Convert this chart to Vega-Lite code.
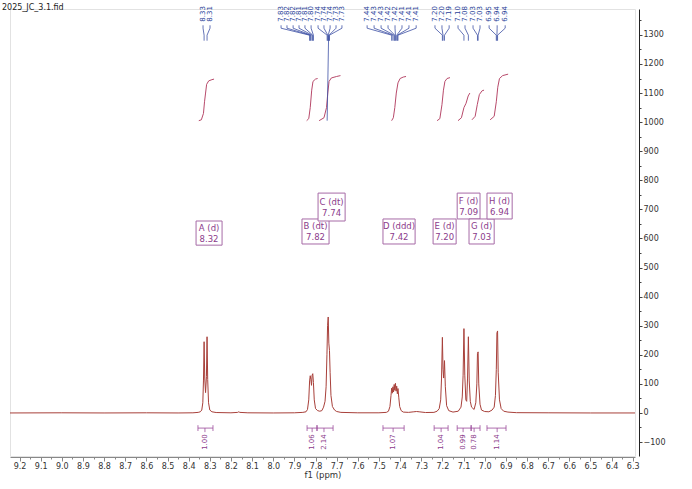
{
  "$schema": "https://vega.github.io/schema/vega-lite/v6.json",
  "width": 625,
  "height": 447,
  "autosize": {"type": "none"},
  "padding": {"left": 10, "top": 9, "right": 57, "bottom": 33},
  "background": "white",
  "title": {"text": "2025_JC_3.1.fid", "anchor": "start", "frame": "group", "dx": -8, "offset": -10, "baseline": "middle", "fontSize": 8, "fontWeight": "normal", "font": "DejaVu Sans", "color": "#222"},
  "config": {"font": "DejaVu Sans", "view": {"stroke": "#e2e2e2"}},
  "resolve": {"axis": {"x": "independent", "y": "independent"}},
  "datasets": {
    "spec": [
      {"p": 9.245, "i": 0}, {"p": 9.0, "i": 0.5}, {"p": 8.8, "i": 0}, {"p": 8.6, "i": 0.5}, {"p": 8.45, "i": 0}, {"p": 8.38, "i": 0.5}, {"p": 8.355, "i": 2}, {"p": 8.345, "i": 4}, {"p": 8.338, "i": 10}, {"p": 8.333, "i": 35}, {"p": 8.33, "i": 110}, {"p": 8.327, "i": 245}, {"p": 8.324, "i": 120}, {"p": 8.32, "i": 70}, {"p": 8.316, "i": 125}, {"p": 8.313, "i": 262}, {"p": 8.31, "i": 115}, {"p": 8.306, "i": 35}, {"p": 8.3, "i": 10}, {"p": 8.29, "i": 4}, {"p": 8.27, "i": 1.5}, {"p": 8.2, "i": 0.5}, {"p": 8.168, "i": 2}, {"p": 8.163, "i": 4}, {"p": 8.158, "i": 2}, {"p": 8.12, "i": 0.5}, {"p": 8.0, "i": 0}, {"p": 7.9, "i": 0.5}, {"p": 7.86, "i": 2}, {"p": 7.845, "i": 4}, {"p": 7.838, "i": 12}, {"p": 7.832, "i": 45}, {"p": 7.828, "i": 110}, {"p": 7.825, "i": 128}, {"p": 7.822, "i": 115}, {"p": 7.819, "i": 95}, {"p": 7.816, "i": 130}, {"p": 7.813, "i": 135}, {"p": 7.81, "i": 105}, {"p": 7.806, "i": 45}, {"p": 7.8, "i": 15}, {"p": 7.79, "i": 8}, {"p": 7.78, "i": 6}, {"p": 7.77, "i": 8}, {"p": 7.762, "i": 20}, {"p": 7.755, "i": 40}, {"p": 7.75, "i": 90}, {"p": 7.746, "i": 200}, {"p": 7.743, "i": 300}, {"p": 7.74, "i": 330}, {"p": 7.737, "i": 240}, {"p": 7.734, "i": 215}, {"p": 7.731, "i": 140}, {"p": 7.727, "i": 60}, {"p": 7.72, "i": 22}, {"p": 7.71, "i": 10}, {"p": 7.7, "i": 5}, {"p": 7.68, "i": 2}, {"p": 7.6, "i": 0.5}, {"p": 7.5, "i": 0.5}, {"p": 7.465, "i": 2}, {"p": 7.455, "i": 6}, {"p": 7.448, "i": 22}, {"p": 7.443, "i": 60}, {"p": 7.44, "i": 85}, {"p": 7.437, "i": 68}, {"p": 7.434, "i": 90}, {"p": 7.431, "i": 72}, {"p": 7.428, "i": 98}, {"p": 7.425, "i": 78}, {"p": 7.422, "i": 102}, {"p": 7.419, "i": 75}, {"p": 7.416, "i": 92}, {"p": 7.413, "i": 66}, {"p": 7.41, "i": 84}, {"p": 7.406, "i": 52}, {"p": 7.402, "i": 22}, {"p": 7.395, "i": 8}, {"p": 7.385, "i": 3}, {"p": 7.36, "i": 2}, {"p": 7.335, "i": 4}, {"p": 7.322, "i": 5}, {"p": 7.31, "i": 4}, {"p": 7.28, "i": 1.5}, {"p": 7.24, "i": 2}, {"p": 7.225, "i": 6}, {"p": 7.215, "i": 15}, {"p": 7.208, "i": 45}, {"p": 7.204, "i": 120}, {"p": 7.2, "i": 260}, {"p": 7.197, "i": 150}, {"p": 7.194, "i": 120}, {"p": 7.19, "i": 180}, {"p": 7.186, "i": 90}, {"p": 7.18, "i": 25}, {"p": 7.17, "i": 8}, {"p": 7.15, "i": 3}, {"p": 7.125, "i": 6}, {"p": 7.112, "i": 20}, {"p": 7.106, "i": 55}, {"p": 7.102, "i": 130}, {"p": 7.098, "i": 290}, {"p": 7.094, "i": 130}, {"p": 7.089, "i": 45}, {"p": 7.085, "i": 40}, {"p": 7.081, "i": 120}, {"p": 7.077, "i": 262}, {"p": 7.073, "i": 110}, {"p": 7.068, "i": 40}, {"p": 7.062, "i": 20}, {"p": 7.05, "i": 12}, {"p": 7.042, "i": 35}, {"p": 7.037, "i": 100}, {"p": 7.034, "i": 205}, {"p": 7.031, "i": 210}, {"p": 7.028, "i": 100}, {"p": 7.022, "i": 30}, {"p": 7.015, "i": 10}, {"p": 7.0, "i": 5}, {"p": 6.98, "i": 4}, {"p": 6.965, "i": 10}, {"p": 6.955, "i": 20}, {"p": 6.949, "i": 60}, {"p": 6.945, "i": 150}, {"p": 6.942, "i": 275}, {"p": 6.939, "i": 282}, {"p": 6.936, "i": 140}, {"p": 6.93, "i": 45}, {"p": 6.922, "i": 15}, {"p": 6.91, "i": 6}, {"p": 6.89, "i": 3}, {"p": 6.85, "i": 1}, {"p": 6.7, "i": 0.5}, {"p": 6.5, "i": 0}, {"p": 6.289, "i": 0}
    ],
    "integ": [
      {"g": "A", "p": 8.352, "v": 1005}, {"g": "A", "p": 8.34, "v": 1008}, {"g": "A", "p": 8.33, "v": 1030}, {"g": "A", "p": 8.325, "v": 1070}, {"g": "A", "p": 8.32, "v": 1100}, {"g": "A", "p": 8.315, "v": 1130}, {"g": "A", "p": 8.305, "v": 1142}, {"g": "A", "p": 8.29, "v": 1146}, {"g": "A", "p": 8.28, "v": 1148},
      {"g": "B", "p": 7.842, "v": 1005}, {"g": "B", "p": 7.832, "v": 1012}, {"g": "B", "p": 7.825, "v": 1050}, {"g": "B", "p": 7.818, "v": 1110}, {"g": "B", "p": 7.812, "v": 1140}, {"g": "B", "p": 7.8, "v": 1148}, {"g": "B", "p": 7.79, "v": 1150},
      {"g": "C", "p": 7.783, "v": 1005}, {"g": "C", "p": 7.76, "v": 1015}, {"g": "C", "p": 7.748, "v": 1050}, {"g": "C", "p": 7.742, "v": 1100}, {"g": "C", "p": 7.736, "v": 1140}, {"g": "C", "p": 7.725, "v": 1152}, {"g": "C", "p": 7.7, "v": 1157}, {"g": "C", "p": 7.682, "v": 1160},
      {"g": "D", "p": 7.44, "v": 1005}, {"g": "D", "p": 7.432, "v": 1015}, {"g": "D", "p": 7.425, "v": 1050}, {"g": "D", "p": 7.418, "v": 1100}, {"g": "D", "p": 7.41, "v": 1135}, {"g": "D", "p": 7.4, "v": 1150}, {"g": "D", "p": 7.385, "v": 1155}, {"g": "D", "p": 7.372, "v": 1157},
      {"g": "E", "p": 7.225, "v": 1005}, {"g": "E", "p": 7.212, "v": 1012}, {"g": "E", "p": 7.202, "v": 1060}, {"g": "E", "p": 7.195, "v": 1110}, {"g": "E", "p": 7.188, "v": 1140}, {"g": "E", "p": 7.178, "v": 1150}, {"g": "E", "p": 7.164, "v": 1153},
      {"g": "F", "p": 7.126, "v": 1005}, {"g": "F", "p": 7.11, "v": 1015}, {"g": "F", "p": 7.098, "v": 1050}, {"g": "F", "p": 7.088, "v": 1065}, {"g": "F", "p": 7.078, "v": 1090}, {"g": "F", "p": 7.07, "v": 1100},
      {"g": "G", "p": 7.06, "v": 1008}, {"g": "G", "p": 7.045, "v": 1020}, {"g": "G", "p": 7.035, "v": 1060}, {"g": "G", "p": 7.025, "v": 1095}, {"g": "G", "p": 7.012, "v": 1108}, {"g": "G", "p": 7.003, "v": 1110},
      {"g": "H", "p": 6.974, "v": 1008}, {"g": "H", "p": 6.955, "v": 1020}, {"g": "H", "p": 6.945, "v": 1070}, {"g": "H", "p": 6.938, "v": 1120}, {"g": "H", "p": 6.93, "v": 1150}, {"g": "H", "p": 6.915, "v": 1160}, {"g": "H", "p": 6.889, "v": 1165}
    ],
    "peaks": [
      {"lab": "8.33", "lx": 8.332, "px": 8.327}, {"lab": "8.31", "lx": 8.299, "px": 8.313},
      {"lab": "7.83", "lx": 7.963, "px": 7.828}, {"lab": "7.82", "lx": 7.935, "px": 7.825}, {"lab": "7.82", "lx": 7.906, "px": 7.822}, {"lab": "7.81", "lx": 7.878, "px": 7.816}, {"lab": "7.81", "lx": 7.85, "px": 7.813}, {"lab": "7.80", "lx": 7.821, "px": 7.81},
      {"lab": "7.74", "lx": 7.788, "px": 7.745}, {"lab": "7.74", "lx": 7.76, "px": 7.742}, {"lab": "7.74", "lx": 7.731, "px": 7.74}, {"lab": "7.73", "lx": 7.703, "px": 7.736}, {"lab": "7.73", "lx": 7.675, "px": 7.734},
      {"lab": "7.44", "lx": 7.556, "px": 7.44}, {"lab": "7.43", "lx": 7.523, "px": 7.434}, {"lab": "7.43", "lx": 7.49, "px": 7.428}, {"lab": "7.42", "lx": 7.457, "px": 7.425}, {"lab": "7.42", "lx": 7.424, "px": 7.422}, {"lab": "7.41", "lx": 7.391, "px": 7.416}, {"lab": "7.41", "lx": 7.358, "px": 7.413}, {"lab": "7.41", "lx": 7.324, "px": 7.41},
      {"lab": "7.20", "lx": 7.235, "px": 7.2}, {"lab": "7.20", "lx": 7.202, "px": 7.197}, {"lab": "7.19", "lx": 7.168, "px": 7.19},
      {"lab": "7.10", "lx": 7.126, "px": 7.098}, {"lab": "7.08", "lx": 7.093, "px": 7.077}, {"lab": "7.03", "lx": 7.055, "px": 7.034}, {"lab": "7.03", "lx": 7.022, "px": 7.031},
      {"lab": "6.95", "lx": 6.979, "px": 6.945}, {"lab": "6.94", "lx": 6.941, "px": 6.942}, {"lab": "6.94", "lx": 6.903, "px": 6.939}
    ],
    "cline": [{"x1": 7.738, "x2": 7.745, "y1": 1299, "y2": 1005}],
    "mult": [
      {"t": "A (d)\n8.32", "x1": 8.365, "x2": 8.242, "y1": 577, "y2": 660, "xc": 8.3035, "yc": 618.5},
      {"t": "B (dt)\n7.82", "x1": 7.864, "x2": 7.736, "y1": 581, "y2": 667, "xc": 7.8, "yc": 624},
      {"t": "C (dt)\n7.74", "x1": 7.788, "x2": 7.66, "y1": 660, "y2": 756, "xc": 7.724, "yc": 708},
      {"t": "D (ddd)\n7.42", "x1": 7.481, "x2": 7.329, "y1": 581, "y2": 667, "xc": 7.405, "yc": 624},
      {"t": "E (d)\n7.20", "x1": 7.244, "x2": 7.135, "y1": 581, "y2": 667, "xc": 7.1895, "yc": 624},
      {"t": "F (d)\n7.09", "x1": 7.13, "x2": 7.022, "y1": 667, "y2": 756, "xc": 7.076, "yc": 711.5},
      {"t": "G (d)\n7.03", "x1": 7.074, "x2": 6.955, "y1": 581, "y2": 667, "xc": 7.0145, "yc": 624},
      {"t": "H (d)\n6.94", "x1": 6.989, "x2": 6.87, "y1": 667, "y2": 756, "xc": 6.9295, "yc": 711.5}
    ],
    "ibr": [
      {"v": "1.00", "p1": 8.356, "p2": 8.285, "pm": 8.323},
      {"v": "1.06", "p1": 7.84, "p2": 7.793, "pm": 7.816},
      {"v": "2.14", "p1": 7.793, "p2": 7.717, "pm": 7.76},
      {"v": "1.07", "p1": 7.481, "p2": 7.381, "pm": 7.433},
      {"v": "1.04", "p1": 7.239, "p2": 7.173, "pm": 7.206},
      {"v": "0.99", "p1": 7.13, "p2": 7.064, "pm": 7.102},
      {"v": "0.78", "p1": 7.064, "p2": 7.022, "pm": 7.05},
      {"v": "1.14", "p1": 6.989, "p2": 6.899, "pm": 6.941}
    ]
  },
  "layer": [
    {
      "data": {"name": "spec"},
      "mark": {"type": "line", "color": "#a8403a", "strokeWidth": 1},
      "encoding": {
        "x": {"field": "p", "type": "quantitative", "scale": {"domain": [9.245, 6.289], "nice": false, "zero": false},
          "axis": {"title": "f1 (ppm)", "titleFontSize": 8.5, "titleFontWeight": "normal", "titleColor": "#333", "titlePadding": 0, "offset": 1,
            "values": [9.2,9.15,9.1,9.05,9.0,8.95,8.9,8.85,8.8,8.75,8.7,8.65,8.6,8.55,8.5,8.45,8.4,8.35,8.3,8.25,8.2,8.15,8.1,8.05,8.0,7.95,7.9,7.85,7.8,7.75,7.7,7.65,7.6,7.55,7.5,7.45,7.4,7.35,7.3,7.25,7.2,7.15,7.1,7.05,7.0,6.95,6.9,6.85,6.8,6.75,6.7,6.65,6.6,6.55,6.5,6.45,6.4,6.35,6.3],
            "labelExpr": "abs(datum.value*10 - round(datum.value*10)) < 0.01 ? format(datum.value, '.1f') : ''",
            "tickSize": {"condition": {"test": "abs(datum.value*10 - round(datum.value*10)) < 0.01", "value": 4}, "value": 2},
            "labelOverlap": false, "labelFlush": false, "labelFontSize": 8, "labelColor": "#333", "labelPadding": 1, "grid": false, "domainColor": "#888", "tickColor": "#888"}},
        "y": {"field": "i", "type": "quantitative", "scale": {"domain": [-148, 1389], "nice": false, "zero": false},
          "axis": {"title": null, "orient": "right", "offset": 4,
            "values": [-100,-50,0,50,100,150,200,250,300,350,400,450,500,550,600,650,700,750,800,850,900,950,1000,1050,1100,1150,1200,1250,1300,1350],
            "labelExpr": "datum.value % 100 === 0 ? format(datum.value, 'd') : ''",
            "tickSize": {"condition": {"test": "datum.value % 100 === 0", "value": 3}, "value": 2},
            "labelOverlap": false, "labelFontSize": 8, "labelColor": "#333", "labelPadding": 1, "grid": false, "domainColor": "#222", "tickColor": "#444"}}
      }
    },
    {
      "data": {"name": "integ"},
      "mark": {"type": "line", "color": "#b84a6b", "strokeWidth": 1},
      "encoding": {
        "x": {"field": "p", "type": "quantitative", "axis": null},
        "y": {"field": "v", "type": "quantitative", "axis": null},
        "detail": {"field": "g"}
      }
    },
    {
      "data": {"name": "peaks"},
      "mark": {"type": "rule", "color": "#3d50a5", "strokeWidth": 0.8},
      "encoding": {
        "x": {"field": "lx", "type": "quantitative", "axis": null},
        "y": {"datum": 1333, "type": "quantitative", "axis": null},
        "y2": {"datum": 1323}
      }
    },
    {
      "data": {"name": "peaks"},
      "mark": {"type": "rule", "color": "#3d50a5", "strokeWidth": 0.8},
      "encoding": {
        "x": {"field": "lx", "type": "quantitative", "axis": null},
        "x2": {"field": "px"},
        "y": {"datum": 1323, "type": "quantitative", "axis": null},
        "y2": {"datum": 1299}
      }
    },
    {
      "data": {"name": "peaks"},
      "mark": {"type": "rule", "color": "#3d50a5", "strokeWidth": 0.8},
      "encoding": {
        "x": {"field": "px", "type": "quantitative", "axis": null},
        "y": {"datum": 1299, "type": "quantitative", "axis": null},
        "y2": {"datum": 1280}
      }
    },
    {
      "data": {"name": "cline"},
      "mark": {"type": "rule", "color": "#3d50a5", "strokeWidth": 0.8},
      "encoding": {
        "x": {"field": "x1", "type": "quantitative", "axis": null},
        "x2": {"field": "x2"},
        "y": {"field": "y1", "type": "quantitative", "axis": null},
        "y2": {"field": "y2"}
      }
    },
    {
      "data": {"name": "peaks"},
      "mark": {"type": "text", "color": "#2b3f9a", "fontSize": 7, "angle": 270, "align": "center", "baseline": "middle"},
      "encoding": {
        "x": {"field": "lx", "type": "quantitative", "axis": null},
        "y": {"datum": 1372, "type": "quantitative", "axis": null},
        "text": {"field": "lab"}
      }
    },
    {
      "data": {"name": "mult"},
      "mark": {"type": "rect", "fill": "white", "stroke": "#a66aa6", "strokeWidth": 1},
      "encoding": {
        "x": {"field": "x1", "type": "quantitative", "axis": null},
        "x2": {"field": "x2"},
        "y": {"field": "y1", "type": "quantitative", "axis": null},
        "y2": {"field": "y2"}
      }
    },
    {
      "data": {"name": "mult"},
      "mark": {"type": "text", "color": "#8b3b8b", "fontSize": 8.5, "lineBreak": "\n", "lineHeight": 11, "align": "center", "baseline": "middle", "dy": -5},
      "encoding": {
        "x": {"field": "xc", "type": "quantitative", "axis": null},
        "y": {"field": "yc", "type": "quantitative", "axis": null},
        "text": {"field": "t"}
      }
    },
    {
      "data": {"name": "ibr"},
      "mark": {"type": "rule", "color": "#9a4a9a", "strokeWidth": 0.8},
      "encoding": {
        "x": {"field": "p1", "type": "quantitative", "axis": null},
        "x2": {"field": "p2"},
        "y": {"datum": -52, "type": "quantitative", "axis": null}
      }
    },
    {
      "data": {"name": "ibr"},
      "mark": {"type": "rule", "color": "#9a4a9a", "strokeWidth": 0.8},
      "encoding": {
        "x": {"field": "p1", "type": "quantitative", "axis": null},
        "y": {"datum": -42, "type": "quantitative", "axis": null},
        "y2": {"datum": -62}
      }
    },
    {
      "data": {"name": "ibr"},
      "mark": {"type": "rule", "color": "#9a4a9a", "strokeWidth": 0.8},
      "encoding": {
        "x": {"field": "p2", "type": "quantitative", "axis": null},
        "y": {"datum": -42, "type": "quantitative", "axis": null},
        "y2": {"datum": -62}
      }
    },
    {
      "data": {"name": "ibr"},
      "mark": {"type": "rule", "color": "#9a4a9a", "strokeWidth": 0.8},
      "encoding": {
        "x": {"field": "pm", "type": "quantitative", "axis": null},
        "y": {"datum": -52, "type": "quantitative", "axis": null},
        "y2": {"datum": -66}
      }
    },
    {
      "data": {"name": "ibr"},
      "mark": {"type": "text", "color": "#8b3b8b", "fontSize": 7, "angle": 270, "align": "center", "baseline": "middle"},
      "encoding": {
        "x": {"field": "pm", "type": "quantitative", "axis": null},
        "y": {"datum": -100, "type": "quantitative", "axis": null},
        "text": {"field": "v"}
      }
    }
  ]
}
